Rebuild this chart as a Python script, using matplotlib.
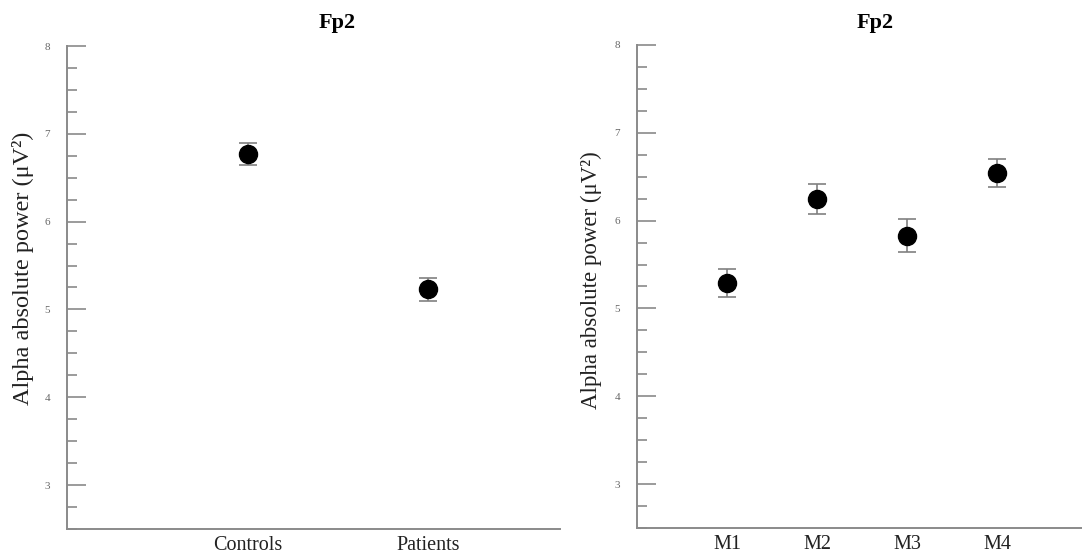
"""
Alpha absolute power at Fp2: group comparison (controls vs patients)
and the patients' four measurement sessions, shown as mean +/- error.
"""
import matplotlib

matplotlib.use("Agg")
import matplotlib.pyplot as plt
from matplotlib.ticker import MultipleLocator

plt.rcParams["font.family"] = ["Liberation Serif", "DejaVu Serif"]

# group comparison
groups = ["Controls", "Patients"]
group_means = [6.77, 5.23]
group_errors = [0.12, 0.13]

# repeated measurements of the patient group
sessions = ["M1", "M2", "M3", "M4"]
session_means = [5.29, 6.25, 5.83, 6.54]
session_errors = [0.16, 0.17, 0.19, 0.16]

title = "Fp2"
ylabel = "Alpha absolute power (\u03bcV\u00b2)"

AXIS_GREY = "#8a8a8a"
TEXT = "#222222"


def style_axes(ax, labels, xmax, label_size):
    for side in ("top", "right"):
        ax.spines[side].set_visible(False)
    for side in ("left", "bottom"):
        ax.spines[side].set_color(AXIS_GREY)
        ax.spines[side].set_linewidth(1.4)

    ax.set_ylim(2.5, 8)
    ax.set_xlim(0, xmax)
    ax.yaxis.set_major_locator(MultipleLocator(1))
    ax.yaxis.set_minor_locator(MultipleLocator(0.25))
    ax.set_yticks([3, 4, 5, 6, 7, 8])
    ax.tick_params(axis="y", which="major", direction="in", length=14,
                   width=1.2, color=AXIS_GREY, labelsize=8,
                   labelcolor="#666666", pad=12)
    ax.tick_params(axis="y", which="minor", direction="in", length=7.5,
                   width=1.2, color=AXIS_GREY)

    ax.set_xticks(range(1, len(labels) + 1))
    ax.set_xticklabels(labels)
    ax.tick_params(axis="x", length=0, labelsize=14.5, labelcolor=TEXT, pad=5)

    ax.set_ylabel(ylabel, fontsize=label_size, color=TEXT)


def draw_points(ax, means, errors):
    xs = range(1, len(means) + 1)
    ax.errorbar(xs, means, yerr=errors, fmt="o", color="black",
                markersize=13, ecolor="#808080", elinewidth=1.2,
                capsize=6.5, capthick=1.2, zorder=3)


fig = plt.figure(figsize=(10.82, 5.59), dpi=100)

ax_left = fig.add_axes([0.0619, 0.0537, 0.4556, 0.864])
ax_right = fig.add_axes([0.5887, 0.0555, 0.4113, 0.864])

draw_points(ax_left, group_means, group_errors)
style_axes(ax_left, groups, 2.73, 17.5)
ax_left.yaxis.set_label_coords(-0.067, 0.54)

draw_points(ax_right, session_means, session_errors)
style_axes(ax_right, sessions, 4.94, 16.5)
ax_right.yaxis.set_label_coords(-0.078, 0.513)

fig.text(337 / 1082, 1 - 23 / 559, title, ha="center", va="center",
         fontsize=16, fontweight="bold", color="black")
fig.text(875 / 1082, 1 - 23 / 559, title, ha="center", va="center",
         fontsize=16, fontweight="bold", color="black")

fig.savefig("out.png", dpi=100)
